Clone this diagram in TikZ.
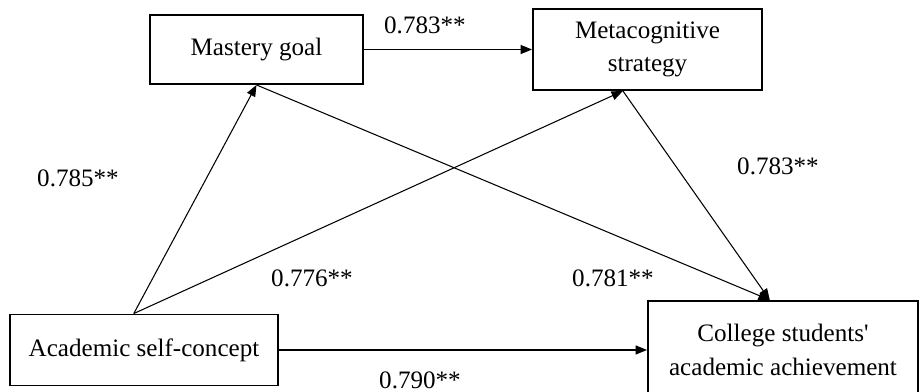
\documentclass[tikz,border=0pt]{standalone}
\usepackage{fontspec}
\setmainfont{Liberation Serif}
\usetikzlibrary{arrows.meta, positioning, calc}

\begin{document}
\begin{tikzpicture}[
   var/.style={rectangle, draw=black, line width=0.9pt, align=center,
               font=\fontsize{11.9}{16}\selectfont, inner sep=2pt},
   path/.style={-{Triangle[length=1.9mm, width=1.5mm]}, line width=0.5pt},
   coef/.style={font=\fontsize{11.9}{14}\selectfont}]

\useasboundingbox (0,0) rectangle (15.317,6.533);

% variables
\node[var, minimum width=3.55cm, minimum height=1.15cm] (mg) at (4.275,5.708)
     {Mastery goal};
\node[var, minimum width=3.817cm, minimum height=1.35cm] (ms) at (10.792,5.708)
     {Metacognitive\\ strategy};
\node[var, minimum width=4.467cm, minimum height=1.183cm] (asc) at (2.4,0.7)
     {Academic self-concept};
\node[var, minimum width=4.5cm, minimum height=1.633cm] (caa) at (13.05,0.7)
     {College students\textquotesingle\\ academic achievement};

% anchor points on the box edges
\coordinate (ascTop) at ($(asc.north)+(-0.17,0)$);
\coordinate (msBot) at ($(ms.south)+(-0.41,0)$);
\coordinate (caaTop) at ($(caa.north)+(-0.22,0)$);

% paths
\draw[path] (mg.east) -- (ms.west);
\draw[path] (ascTop) -- (mg.south);
\draw[path] (ascTop) -- (msBot);
\draw[path] (mg.south) -- (caaTop);
\draw[path] (msBot) -- (caaTop);
\draw[path] (asc.east) -- (caa.west);

% coefficients
\node[coef] (c1) at (7.083,6.117) {0.783**};
\node[coef] (c2) at (1.3,3.567) {0.785**};
\node[coef] (c3) at (5.2,1.9) {0.776**};
\node[coef] (c4) at (10.217,1.9) {0.781**};
\node[coef] (c5) at (12.967,3.767) {0.783**};
\node[coef] (c6) at (7.0,0.2) {0.790**};
\end{tikzpicture}
\end{document}
